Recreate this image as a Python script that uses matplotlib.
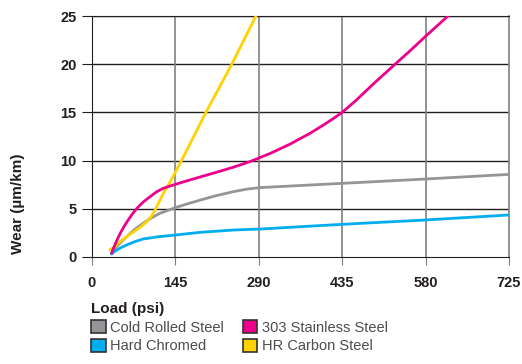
import matplotlib.pyplot as plt
from matplotlib.patches import Patch

plt.rcParams['font.family'] = ['Liberation Sans', 'DejaVu Sans']

# values
cold_x = [34, 40, 48, 60, 74, 89, 103, 118, 145, 165, 188, 215, 246, 270, 292, 435, 580, 725]
cold_y = [0.4, 0.9, 1.4, 2.1, 2.85, 3.5, 4.05, 4.53, 5.12, 5.5, 5.9, 6.35, 6.78, 7.05, 7.2, 7.64, 8.09, 8.57]
hard_x = [34, 40, 48, 60, 74, 89, 115, 145, 188, 246, 292, 435, 580, 725]
hard_y = [0.3, 0.6, 0.9, 1.24, 1.58, 1.87, 2.1, 2.28, 2.56, 2.8, 2.9, 3.39, 3.84, 4.36]
stain_x = [34, 38, 43, 49, 56, 63, 70, 78, 89, 101, 112, 124, 145, 166, 188, 217, 246, 275,
           310, 344, 379, 400, 418, 435, 460, 490, 527, 555, 580, 619]
stain_y = [0.4, 1.0, 1.7, 2.45, 3.2, 3.84, 4.45, 5.05, 5.7, 6.26, 6.75, 7.13, 7.54, 7.92, 8.3,
           8.8, 9.32, 9.9, 10.75, 11.7, 12.83, 13.6, 14.3, 15, 16.3, 18, 20, 21.5, 22.9, 25]
hr_x = [31, 40, 49, 60, 72, 84, 95, 103, 110, 117, 124, 135, 145, 156, 198, 243, 285]
hr_y = [0.75, 1.1, 1.6, 2.1, 2.6, 3.1, 3.66, 4.2, 4.9, 5.75, 6.6, 7.7, 8.8, 10.05, 15, 20, 25]

xticks = [0, 145, 290, 435, 580, 725]
yticks = [0, 5, 10, 15, 20, 25]
names = ["Cold Rolled Steel", "Hard Chromed", "303 Stainless Steel", "HR Carbon Steel"]
colors = ["#939598", "#00aeef", "#ec008c", "#ffd200"]

fig = plt.figure(figsize=(5.22, 3.64), dpi=100)
ax = fig.add_axes([92/522, 1-257/364, 417/522, 241/364])

for y in yticks[1:]:
    ax.axhline(y, color="#231f20", lw=1, zorder=1)
for x in xticks[1:-1]:
    ax.axvline(x, color="#808080", lw=1.2, zorder=1)

ax.plot(cold_x, cold_y, color=colors[0], lw=2, zorder=3, solid_capstyle="round")
ax.plot(hard_x, hard_y, color=colors[1], lw=2, zorder=3, solid_capstyle="round")
ax.plot(hr_x, hr_y, color=colors[3], lw=2, zorder=3, solid_capstyle="round")
ax.plot(stain_x, stain_y, color=colors[2], lw=2, zorder=4, solid_capstyle="round")

ax.set_xlim(0, 725)
ax.set_ylim(0, 25)
ax.set_xticks(xticks)
ax.set_yticks(yticks)
for s in ["top", "left", "bottom"]:
    ax.spines[s].set_color("#231f20")
ax.spines["right"].set_color("#808080")
ax.spines["right"].set_linewidth(1.2)
ax.tick_params(axis="x", length=6, color="#808080", pad=8, labelsize=10.5, labelcolor="#231f20")
ax.tick_params(axis="y", length=7, color="#231f20", pad=4, labelsize=10.5, labelcolor="#231f20")
for lab in ax.get_xticklabels() + ax.get_yticklabels():
    lab.set_fontweight("bold")

fig.text(18.5/522, 1-204/364, "Wear (\u00b5m/km)", rotation=90, ha="center", va="center",
         fontsize=11, fontweight="bold", color="#231f20")
fig.text(91/522, 1-313/364, "Load (psi)", ha="left", va="baseline",
         fontsize=11, fontweight="bold", color="#231f20")

handles = [Patch(facecolor=c, edgecolor="#333333", lw=1.2) for c in colors]
fig.legend(handles, names, ncol=2, loc="upper left", bbox_to_anchor=(91/522, 1-320/364),
           frameon=False, fontsize=10.5, handlelength=1.0, handleheight=1.0,
           handletextpad=0.3, columnspacing=1.3, labelspacing=0.3, labelcolor="#4d4d4d",
           borderpad=0, borderaxespad=0)

fig.savefig("out.png", dpi=100)
